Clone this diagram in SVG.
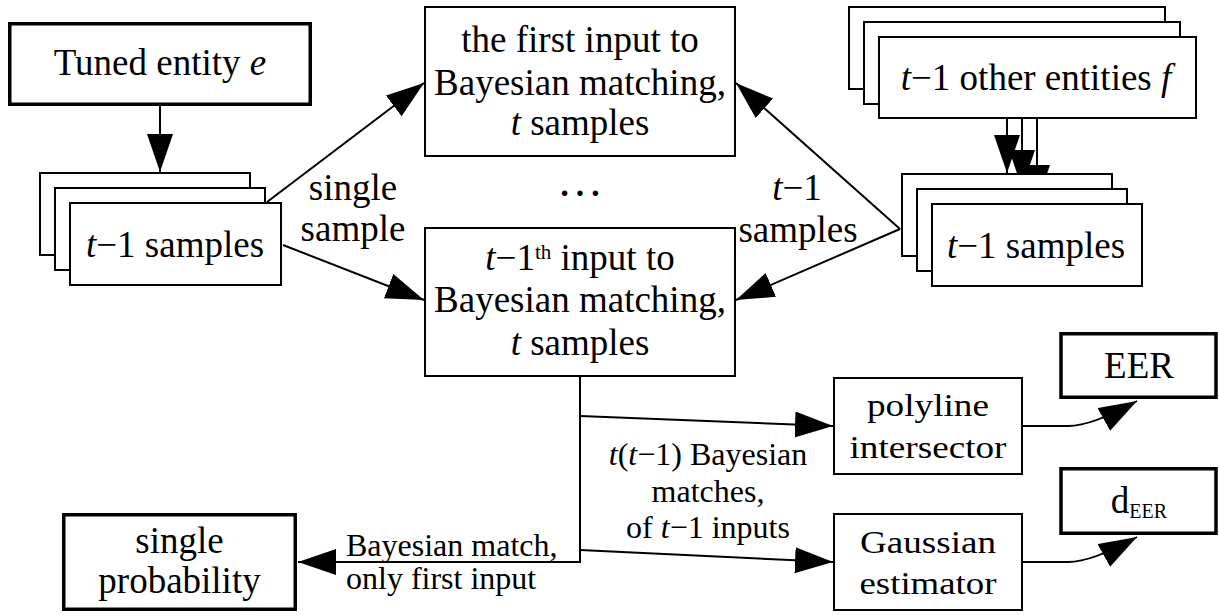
<svg xmlns="http://www.w3.org/2000/svg" width="1219" height="615" viewBox="0 0 1219 615">
  <style>
    text { font-family: "Liberation Serif", "Times New Roman", serif; fill: #000; }
    .t37 { font-size: 37px; text-anchor: middle; }
    .t32 { font-size: 32px; text-anchor: middle; }
    .t33 { font-size: 32.5px; text-anchor: middle; }
    .lbl { font-size: 32px; }
    .it { font-style: italic; }
    .thin { fill: #fff; stroke: #000; stroke-width: 2; }
    .thick { fill: #fff; stroke: #000; stroke-width: 3.5; }
    .edge { fill: none; stroke: #000; stroke-width: 2; marker-end: url(#head); }
  </style>
  <defs>
    <marker id="head" markerUnits="userSpaceOnUse" markerWidth="40" markerHeight="28" refX="38" refY="13" orient="auto">
      <path d="M0,0 L38,13 L0,26 z" fill="#000"/>
    </marker>
  </defs>

  <!-- connectors -->
  <g id="connectors">
    <path class="edge" d="M160,106 L160,172"/>
    <path class="edge" d="M267,202 L424,83"/>
    <path class="edge" d="M283,245 L424,300"/>
    <path class="edge" d="M900,229 L736,83"/>
    <path class="edge" d="M900,229 L736,300"/>
    <path class="edge" d="M580,377 L580,562 L298,562"/>
    <path class="edge" d="M580,416 L833,426"/>
    <path class="edge" d="M580,550 L833,562"/>
    <path class="edge" d="M1023,426 H1068 Q1092,426 1137,401"/>
    <path class="edge" d="M1023,562 H1068 Q1092,562 1137,537"/>
  </g>

  <!-- tuned entity -->
  <g id="tuned-entity">
    <rect class="thick" x="9.75" y="23.75" width="300.5" height="80.5"/>
    <text class="t37" x="160" y="75">Tuned entity <tspan class="it">e</tspan></text>
  </g>

  <!-- samples of the tuned entity -->
  <g id="samples-e">
    <rect class="thin" x="40" y="173" width="210" height="82"/>
    <rect class="thin" x="55" y="188" width="210" height="82"/>
    <rect class="thin" x="70" y="203" width="211" height="82"/>
    <text class="t37" x="175" y="257"><tspan class="it">t</tspan>−1 samples</text>
  </g>

  <!-- first Bayesian input -->
  <g id="first-input">
    <rect class="thin" x="425" y="7" width="310" height="149"/>
    <text class="t37" x="580" y="52">the first input to</text>
    <text class="t37" x="580" y="95">Bayesian matching,</text>
    <text class="t37" x="580" y="135"><tspan class="it">t</tspan> samples</text>
  </g>

  <text class="t37" x="580" y="196" style="font-size:46px">…</text>

  <!-- last Bayesian input -->
  <g id="last-input">
    <rect class="thin" x="425" y="228" width="310" height="148"/>
    <text class="t37" x="580" y="270"><tspan class="it">t</tspan>−1<tspan dy="-11.5" style="font-size:21px">th</tspan><tspan dy="11.5"> input to</tspan></text>
    <text class="t37" x="580" y="312">Bayesian matching,</text>
    <text class="t37" x="580" y="355"><tspan class="it">t</tspan> samples</text>
  </g>

  <!-- other entities -->
  <g id="other-entities">
    <rect class="thin" x="849" y="7" width="316" height="82"/>
    <rect class="thin" x="864" y="22" width="316" height="82"/>
    <rect class="thin" x="879" y="37" width="317" height="81"/>
    <text class="t37" x="1036" y="90"><tspan class="it">t</tspan>−1 other entities <tspan class="it">f</tspan></text>
  </g>

  <!-- arrows from the other entities into their sample stack -->
  <g id="entity-arrows">
    <path class="edge" d="M1007,119 L1007,173"/>
    <path class="edge" d="M1022,119 L1022,188"/>
    <path class="edge" d="M1037,119 L1037,203"/>
  </g>

  <!-- samples of the other entities -->
  <g id="samples-f">
    <rect class="thin" x="902" y="174" width="210" height="82"/>
    <rect class="thin" x="917" y="189" width="210" height="82"/>
    <rect class="thin" x="932" y="204" width="210" height="82"/>
    <text class="t37" x="1036" y="258"><tspan class="it">t</tspan>−1 samples</text>
  </g>

  <!-- edge labels -->
  <g id="edge-labels">
    <text class="t37" x="353" y="200">single</text>
    <text class="t37" x="353" y="241">sample</text>
    <text class="t37" x="797" y="200"><tspan class="it">t</tspan>−1</text>
    <text class="t37" x="798" y="242">samples</text>
    <text class="t32" x="708" y="465"><tspan class="it">t</tspan>(<tspan class="it">t</tspan>−1) Bayesian</text>
    <text class="t32" x="708" y="502">matches,</text>
    <text class="t32" x="708" y="538">of <tspan class="it">t</tspan>−1 inputs</text>
    <text class="lbl" x="346" y="556">Bayesian match,</text>
    <text class="lbl" x="346" y="589">only first input</text>
  </g>

  <!-- polyline intersector -->
  <g id="polyline-intersector">
    <rect class="thin" x="834" y="378" width="188" height="96"/>
    <text class="t33" x="928" y="416" textLength="122" lengthAdjust="spacingAndGlyphs">polyline</text>
    <text class="t33" x="928" y="458" textLength="157" lengthAdjust="spacingAndGlyphs">intersector</text>
  </g>

  <!-- Gaussian estimator -->
  <g id="gaussian-estimator">
    <rect class="thin" x="834" y="514" width="188" height="96"/>
    <text class="t33" x="928" y="553" textLength="136" lengthAdjust="spacingAndGlyphs">Gaussian</text>
    <text class="t33" x="928" y="594" textLength="137" lengthAdjust="spacingAndGlyphs">estimator</text>
  </g>

  <!-- EER -->
  <g id="eer">
    <rect class="thick" x="1061" y="333.75" width="155" height="63.5"/>
    <text class="t37" x="1139" y="378">EER</text>
  </g>

  <!-- d_EER -->
  <g id="d-eer">
    <rect class="thick" x="1061" y="468.75" width="155" height="64.5"/>
    <text class="t37" x="1139" y="513">d<tspan dy="5" style="font-size:20px">EER</tspan></text>
  </g>

  <!-- single probability -->
  <g id="single-probability">
    <rect class="thick" x="63.75" y="514.75" width="231.5" height="94.5"/>
    <text class="t37" x="179.5" y="553">single</text>
    <text class="t37" x="179.5" y="593">probability</text>
  </g>
</svg>
